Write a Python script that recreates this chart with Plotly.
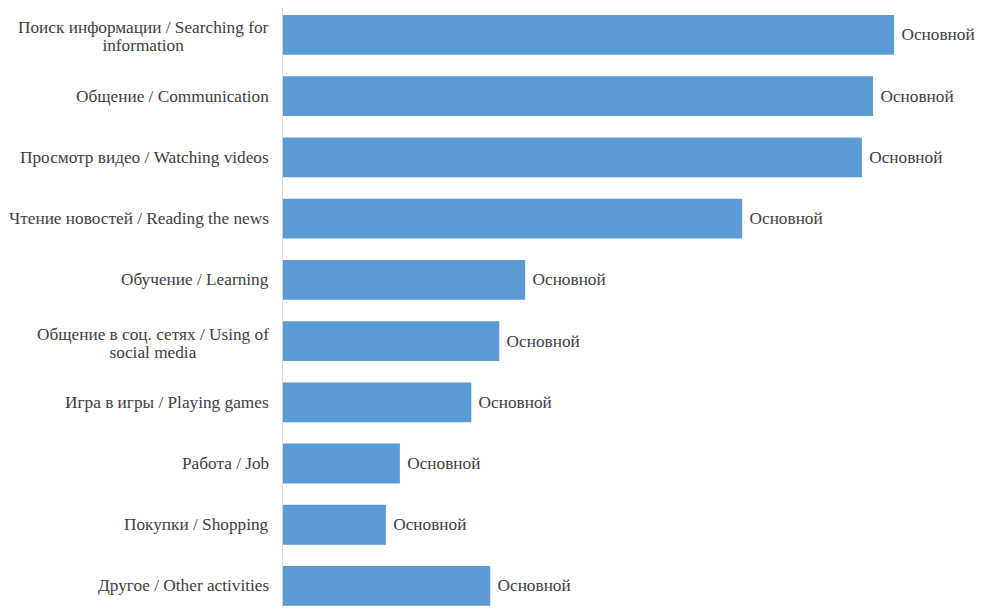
import plotly.graph_objects as go

categories = [
    "Поиск информации / Searching for<br>information",
    "Общение / Communication",
    "Просмотр видео / Watching videos",
    "Чтение новостей / Reading the news",
    "Обучение / Learning",
    "Общение в соц. сетях / Using of<br>social media",
    "Игра в игры / Playing games",
    "Работа / Job",
    "Покупки / Shopping",
    "Другое / Other activities",
]
values = [87.3, 84.3, 82.7, 65.6, 34.6, 30.9, 26.9, 16.7, 14.7, 29.6]
bar_labels = ["Основной"] * len(categories)

FONT = "Liberation Serif"
TXT = "#404040"

fig = go.Figure()
fig.add_trace(go.Bar(
    y=list(range(len(categories))),
    x=values,
    orientation="h",
    width=0.65,
    marker=dict(color="#5b9bd5", line=dict(width=0)),
    text=[" " + t for t in bar_labels],
    textposition="outside",
    textfont=dict(family=FONT, size=17.25, color=TXT),
    cliponaxis=False,
    hoverinfo="skip",
))

for i, c in enumerate(categories):
    lines = c.split("<br>")
    txt = "<br>".join('<span style="font-size:17.25px">%s</span>' % ln for ln in lines)
    fig.add_annotation(
        x=0, xref="paper", xanchor="right", xshift=-12,
        y=i, yref="y", yanchor="middle",
        yshift=-2 if len(lines) > 1 else 0,
        text=txt, align="center", showarrow=False,
        font=dict(family=FONT, size=14, color=TXT),
    )

fig.update_layout(
    width=975, height=600,
    font=dict(family=FONT, color=TXT),
    margin=dict(l=275, r=0, t=0, b=0),
    paper_bgcolor="white", plot_bgcolor="white",
    showlegend=False,
    xaxis=dict(range=[0, 100], visible=False, fixedrange=True),
    yaxis=dict(
        range=[9.36, -0.44], showticklabels=False, showgrid=False,
        zeroline=False, showline=True, linecolor="#d9d9d9", linewidth=1,
        ticks="",
    ),
)

fig.write_html("out.html")
